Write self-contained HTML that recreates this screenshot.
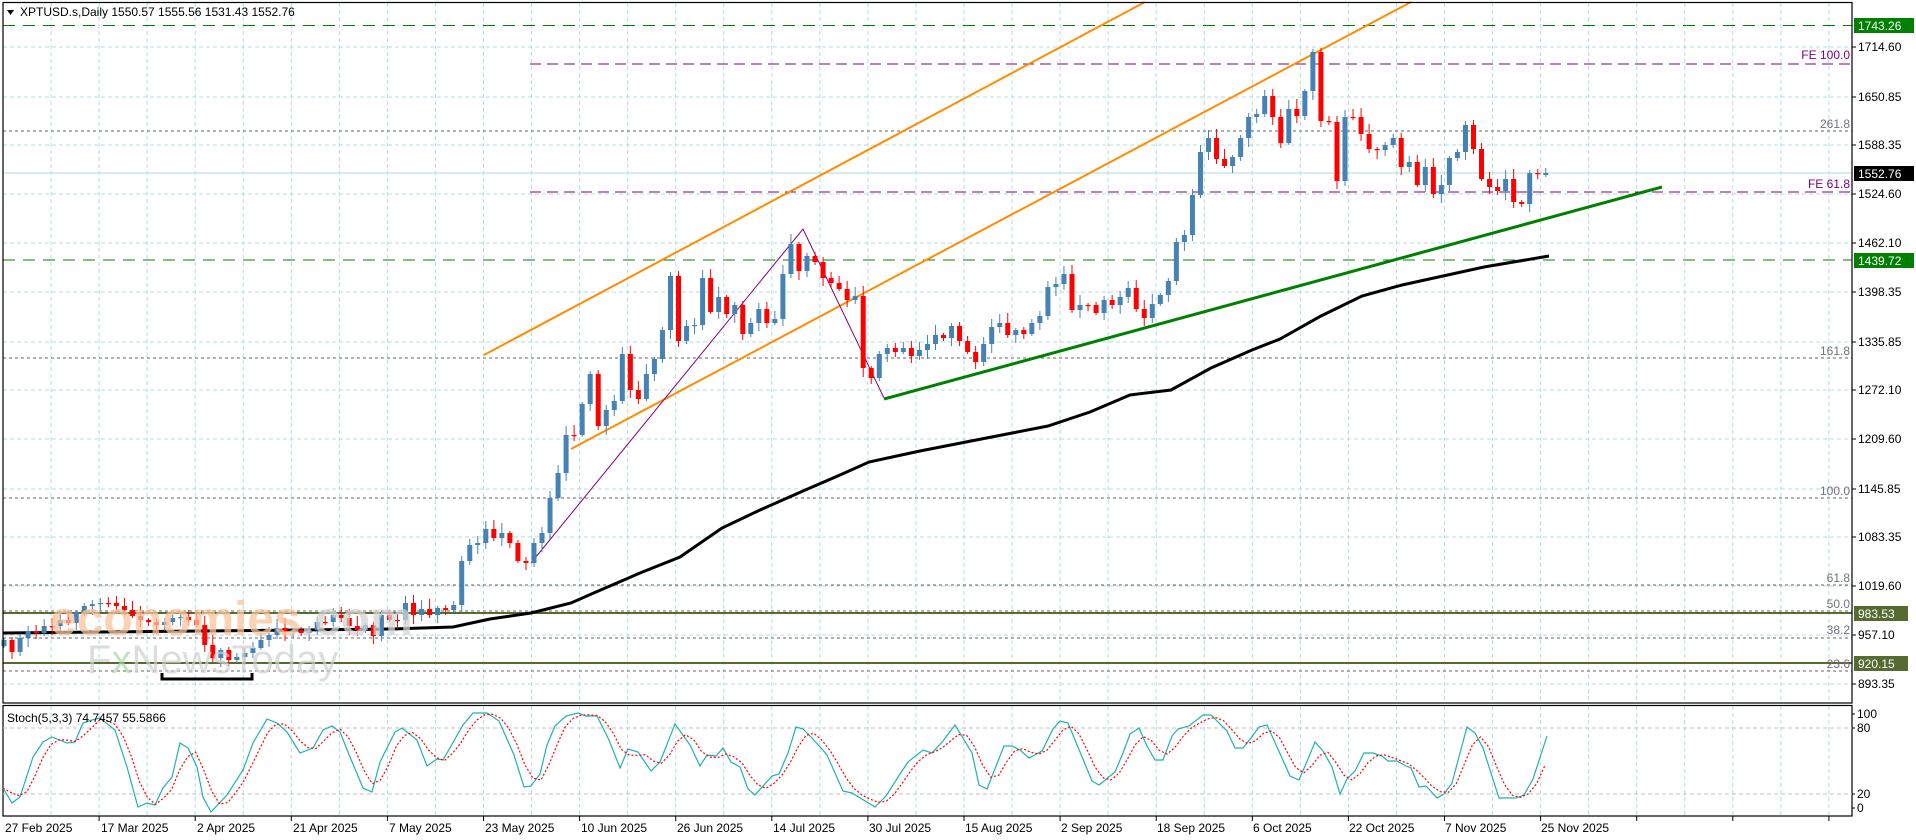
<!DOCTYPE html>
<html><head><meta charset="utf-8"><style>
html,body{margin:0;padding:0;background:#fff;}
svg{display:block;}
text{font-family:"Liberation Sans",sans-serif;}
</style></head><body>
<svg id="s" width="1916" height="840" viewBox="0 0 1916 840" xmlns="http://www.w3.org/2000/svg">
<rect x="0" y="0" width="1916" height="840" fill="#fff"/>
<g id="grid"></g>
<!-- fib gray dotted lines -->
<g stroke="#666" stroke-width="1" stroke-dasharray="3,3" fill="none">
<line x1="3" y1="131" x2="1852" y2="131"/>
<line x1="3" y1="358" x2="1852" y2="358"/>
<line x1="3" y1="498" x2="1852" y2="498"/>
<line x1="3" y1="585" x2="1852" y2="585"/>
<line x1="3" y1="611" x2="1852" y2="611"/>
<line x1="3" y1="638" x2="1852" y2="638"/>
<line x1="3" y1="671" x2="1852" y2="671"/>
</g>
<!-- current price line -->
<line x1="3" y1="173" x2="1852" y2="173" stroke="#a8dcdc" stroke-width="1"/>
<!-- green dashed S/R -->
<g stroke="#008000" stroke-width="1" stroke-dasharray="12,8">
<line x1="3" y1="25.5" x2="1852" y2="25.5"/>
<line x1="3" y1="260" x2="1852" y2="260"/>
</g>
<!-- purple FE lines -->
<g stroke="#800080" stroke-width="1" stroke-dasharray="11,6">
<line x1="530" y1="64" x2="1850" y2="64"/>
<line x1="530" y1="192" x2="1850" y2="192"/>
</g>
<!-- olive solid lines -->
<g stroke="#556b2f" stroke-width="2">
<line x1="3" y1="613" x2="1852" y2="613"/>
<line x1="3" y1="663" x2="1852" y2="663"/>
</g>
<!-- orange channel -->
<g stroke="#ff8c00" stroke-width="2">
<line x1="484" y1="355" x2="1145" y2="2"/>
<line x1="571" y1="449" x2="1411" y2="2"/>
</g>
<!-- MA -->
<polyline fill="none" stroke="#000" stroke-width="3" points="3,633 100,632 200,631 300,630 392,629 453,627 490,619 531,613 571,603 596,592 640,573 680,557 722,528 760,510 803,491 840,475 869,462 920,451 966,442 1048,426 1090,412 1130,395 1171,390 1211,368 1252,350 1280,339 1321,316 1362,296 1402,285 1443,276 1484,267 1549,256"/>
<!-- purple zigzag -->
<polyline fill="none" stroke="#800080" stroke-width="1" points="531,563 803,229 884,398"/>
<!-- green trendline -->
<line x1="884" y1="399" x2="1662" y2="187" stroke="#008000" stroke-width="3"/>
<g id="candles"></g>
<!-- bracket -->
<path d="M162,673 V679 H252 V673" fill="none" stroke="#000" stroke-width="3"/>
<!-- watermark -->
<text x="50" y="635" font-size="48" font-weight="bold" fill="#fbc39c" opacity="0.75">economies<tspan fill="#d4d4d4">.com</tspan></text>
<text x="87" y="673" font-size="40" fill="#cfcfcf" opacity="0.7">F<tspan fill="#a8d8a8">x</tspan>NewsToday</text>
<!-- title -->
<path d="M7,10 L14,10 L10.5,15 Z" fill="#000"/>
<text x="20" y="16" font-size="12" fill="#000">XPTUSD.s,Daily  1550.57 1555.56 1531.43 1552.76</text>
<!-- right level labels -->
<g font-size="12" text-anchor="end">
<text x="1850" y="59" fill="#800080">FE 100.0</text>
<text x="1850" y="188" fill="#800080">FE 61.8</text>
<text x="1850" y="128" fill="#707080">261.8</text>
<text x="1850" y="355" fill="#707080">161.8</text>
<text x="1850" y="495" fill="#707080">100.0</text>
<text x="1850" y="582" fill="#707080">61.8</text>
<text x="1850" y="608" fill="#707080">50.0</text>
<text x="1850" y="634" fill="#707080">38.2</text>
<text x="1850" y="668" fill="#707080">23.6</text>
</g>
<!-- frames -->
<rect x="3" y="2.5" width="1849" height="700.5" fill="none" stroke="#000" stroke-width="1.2"/>
<rect x="3" y="705.5" width="1849" height="110.5" fill="none" stroke="#000" stroke-width="1.2"/>
<!-- stoch -->
<g stroke="#c0c0c0" stroke-width="1" stroke-dasharray="4,3">
<line x1="3" y1="728" x2="1852" y2="728"/>
<line x1="3" y1="794" x2="1852" y2="794"/>
</g>
<g id="stoch"></g>
<text x="7" y="722" font-size="12" fill="#000">Stoch(5,3,3) 74.7457 55.5866</text>
<!-- price axis -->
<g stroke="#000" stroke-width="1" id="ticks"></g>
<g font-size="12" fill="#000">
<text x="1858" y="51">1714.60</text>
<text x="1858" y="101">1650.85</text>
<text x="1858" y="149">1588.35</text>
<text x="1858" y="198">1524.60</text>
<text x="1858" y="247">1462.10</text>
<text x="1858" y="296">1398.35</text>
<text x="1858" y="346">1335.85</text>
<text x="1858" y="394">1272.10</text>
<text x="1858" y="443">1209.60</text>
<text x="1858" y="493">1145.85</text>
<text x="1858" y="541">1083.35</text>
<text x="1858" y="590">1019.60</text>
<text x="1858" y="639">957.10</text>
<text x="1858" y="688">893.35</text>
</g>
<rect x="1854" y="18" width="60" height="15" fill="#008000"/>
<text x="1858" y="30" font-size="12" fill="#fff">1743.26</text>
<rect x="1854" y="253" width="60" height="15" fill="#008000"/>
<text x="1858" y="265" font-size="12" fill="#fff">1439.72</text>
<rect x="1854" y="166" width="60" height="15" fill="#000"/>
<text x="1858" y="178" font-size="12" fill="#fff">1552.76</text>
<rect x="1854" y="606" width="54" height="15" fill="#556b2f"/>
<text x="1858" y="618" font-size="12" fill="#fff">983.53</text>
<rect x="1854" y="656" width="54" height="15" fill="#556b2f"/>
<text x="1858" y="668" font-size="12" fill="#fff">920.15</text>
<g font-size="12" fill="#000">
<text x="1857" y="718">100</text>
<text x="1857" y="732">80</text>
<text x="1857" y="798">20</text>
<text x="1857" y="812">0</text>
</g>
<!-- dates -->
<g font-size="12" fill="#000">
<text x="5" y="832">27 Feb 2025</text>
<text x="101" y="832">17 Mar 2025</text>
<text x="197" y="832">2 Apr 2025</text>
<text x="293" y="832">21 Apr 2025</text>
<text x="389" y="832">7 May 2025</text>
<text x="485" y="832">23 May 2025</text>
<text x="581" y="832">10 Jun 2025</text>
<text x="677" y="832">26 Jun 2025</text>
<text x="773" y="832">14 Jul 2025</text>
<text x="869" y="832">30 Jul 2025</text>
<text x="965" y="832">15 Aug 2025</text>
<text x="1061" y="832">2 Sep 2025</text>
<text x="1157" y="832">18 Sep 2025</text>
<text x="1253" y="832">6 Oct 2025</text>
<text x="1349" y="832">22 Oct 2025</text>
<text x="1445" y="832">7 Nov 2025</text>
<text x="1541" y="832">25 Nov 2025</text>
</g>
</svg>
<script>
(function(){
var NS="http://www.w3.org/2000/svg";
function el(p,t,a){var e=document.createElementNS(NS,t);for(var k in a)e.setAttribute(k,a[k]);p.appendChild(e);return e;}
var g=document.getElementById('grid');
var hs=[47,97,145,194,243,292,342,390,439,489,537,586,635,684];
hs.forEach(function(y){el(g,'line',{x1:3,y1:y,x2:1852,y2:y,stroke:'#b4dde4','stroke-dasharray':'4,3'});});
for(var k=1;k<=38;k++){var x=3+48.05*k;if(x>1850)break;
 el(g,'line',{x1:x,y1:3,x2:x,y2:703,stroke:'#b4dde4','stroke-dasharray':'4,3'});
 el(g,'line',{x1:x,y1:706,x2:x,y2:816,stroke:'#b4dde4','stroke-dasharray':'4,3'});
 if(k%2==0) el(g,'line',{x1:x,y1:816,x2:x,y2:821,stroke:'#000'});
}
var t=document.getElementById('ticks');
hs.forEach(function(y){el(t,'line',{x1:1852,y1:y,x2:1856,y2:y});});
[714,728,794,808].forEach(function(y){el(t,'line',{x1:1852,y1:y,x2:1855,y2:y});});
var C=[640,652,638,631,633,626,626,620,623,612,606,604,603,603,606,610,616,620,622,625,622,618,617,620,625,645,658,650,660,657,653,648,640,635,628,632,630,633,630,622,622,615,618,626,630,625,636,615,620,620,603,615,609,615,608,610,605,561,545,
543,529,538,533,543,561,563,543,533,498,473,435,435,404,374,426,410,401,354,390,
399,374,359,330,276,341,326,325,278,312,297,314,305,334,323,309,323,319,274,244,271,256,262,278,283,289,300,296,368,378,354,348,352,348,356,350,344,335,338,326,341,352,362,344,327,323,335,330,334,323,316,287,284,274,310,305,305,313,300,305,297,288,309,318,304,295,281,242,235,195,152,138,159,166,157,138,117,114,96,117,
143,109,116,91,52,121,122,181,117,117,134,149,150,145,138,167,162,185,167,194,185,158,152,125,149,179,187,191,179,202,204,173,174,173];
var cg=document.getElementById('candles');
var X=[];
for(var i=0;i<C.length;i++){
 var x=4+i*8.03;X.push(x);
 var o=i?C[i-1]:C[0]+6, c=C[i];
 if(i==C.length-1){o=175;}
 var top=Math.min(o,c),bot=Math.max(o,c);if(bot-top<1.2)bot=top+1.2;
 var hi=top-(2+(i*37)%9), lo=bot+(2+(i*53)%8);
 var col=c<o?'#4682b4':'#ff0000';
 el(cg,'line',{x1:x,y1:hi,x2:x,y2:lo,stroke:col,'stroke-width':1});
 el(cg,'rect',{x:x-2.5,y:top,width:5,height:bot-top,fill:col});
}
var M=[[3,788],[12,803],[20,797],[33,757],[43,742],[52,737],[67,743],[75,742],[83,723],[92,720],[100,718],[115,730],[127,767],[138,807],[147,803],[155,805],[163,788],[172,777],[180,743],[188,748],[197,767],[203,797],[211,812],[227,795],[243,770],[253,743],[267,719],[277,723],[287,732],[300,753],[313,748],[323,730],[332,726],[340,732],[350,757],[363,788],[372,792],[380,762],[395,732],[402,728],[417,740],[427,766],[437,759],[443,760],[463,725],[473,713],[487,713],[499,721],[514,755],[524,787],[531,786],[540,774],[547,745],[555,726],[566,716],[578,713],[586,716],[597,716],[609,740],[620,768],[628,749],[638,752],[651,771],[660,762],[675,724],[690,745],[700,766],[707,755],[716,756],[723,748],[731,762],[740,767],[748,789],[755,795],[772,776],[779,774],[788,753],[796,727],[803,729],[812,738],[821,748],[827,755],[843,791],[852,793],[875,807],[886,796],[900,774],[908,762],[923,750],[932,753],[943,741],[955,725],[972,753],[979,785],[987,789],[1004,746],[1012,746],[1020,750],[1029,758],[1042,751],[1053,729],[1060,721],[1068,723],[1092,781],[1099,785],[1115,772],[1123,753],[1130,734],[1139,728],[1147,746],[1155,760],[1163,760],[1172,736],[1178,729],[1189,726],[1203,715],[1211,715],[1227,731],[1235,748],[1243,748],[1251,738],[1259,727],[1267,725],[1277,747],[1290,776],[1299,780],[1308,759],[1315,742],[1323,751],[1332,767],[1340,794],[1347,779],[1355,771],[1364,753],[1373,753],[1382,756],[1388,761],[1397,761],[1406,766],[1411,768],[1419,787],[1426,786],[1437,798],[1444,794],[1452,783],[1467,727],[1475,733],[1483,748],[1499,798],[1516,798],[1524,795],[1533,779],[1547,736]];
var sg=document.getElementById('stoch');
el(sg,'polyline',{points:M.map(function(p){return p.join(',');}).join(' '),fill:'none',stroke:'#20b2aa','stroke-width':1.2});
function interp(x){for(var j=1;j<M.length;j++){if(M[j][0]>=x){var a=M[j-1],b=M[j];return a[1]+(b[1]-a[1])*(x-a[0])/(b[0]-a[0]);}}return M[M.length-1][1];}
var R=[];for(var x=3;x<=1548;x+=8.03)R.push([x,interp(x)]);
var S=[];for(var j=0;j<R.length;j++){var a=R[Math.max(0,j-2)][1],b=R[Math.max(0,j-1)][1],c=R[j][1];S.push(R[j][0].toFixed(1)+','+((a+b+c)/3).toFixed(1));}
el(sg,'polyline',{points:S.join(' '),fill:'none',stroke:'#ff0000','stroke-width':1.2,'stroke-dasharray':'2,2'});
})();
</script>
</body></html>
